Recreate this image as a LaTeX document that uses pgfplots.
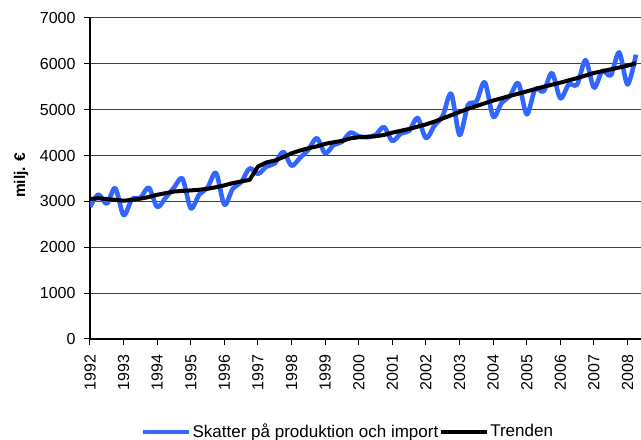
\documentclass[border=0pt]{standalone}
\usepackage{pgfplots}
\usepackage{pgfplotstable}
\pgfplotsset{compat=1.18}
\usepackage{fontspec}
\setmainfont{Liberation Sans}
\definecolor{serblue}{RGB}{51,102,255}

\pgfplotstableread{
x y
1992.00 2880
1992.25 3150
1992.50 2950
1992.75 3290
1993.00 2700
1993.25 3050
1993.50 3080
1993.75 3300
1994.00 2880
1994.25 3080
1994.50 3300
1994.75 3500
1995.00 2850
1995.25 3150
1995.50 3300
1995.75 3620
1996.00 2930
1996.25 3280
1996.50 3420
1996.75 3720
1997.00 3600
1997.25 3760
1997.50 3830
1997.75 4080
1998.00 3780
1998.25 3950
1998.50 4130
1998.75 4380
1999.00 4050
1999.25 4230
1999.50 4300
1999.75 4500
2000.00 4420
2000.25 4400
2000.50 4450
2000.75 4620
2001.00 4320
2001.25 4480
2001.50 4540
2001.75 4820
2002.00 4380
2002.25 4650
2002.50 4870
2002.75 5350
2003.00 4450
2003.25 5100
2003.50 5180
2003.75 5600
2004.00 4850
2004.25 5150
2004.50 5300
2004.75 5580
2005.00 4900
2005.25 5450
2005.50 5400
2005.75 5800
2006.00 5250
2006.25 5550
2006.50 5550
2006.75 6080
2007.00 5480
2007.25 5850
2007.50 5750
2007.75 6250
2008.00 5550
2008.25 6200
}\skatter

\pgfplotstableread{
x y
1992.00 3050
1992.25 3070
1992.50 3050
1992.75 3035
1993.00 3015
1993.25 3035
1993.50 3060
1993.75 3095
1994.00 3145
1994.25 3180
1994.50 3215
1994.75 3230
1995.00 3240
1995.25 3255
1995.50 3275
1995.75 3310
1996.00 3350
1996.25 3400
1996.50 3435
1996.75 3470
1997.00 3760
1997.25 3850
1997.50 3890
1997.75 3965
1998.00 4050
1998.25 4110
1998.50 4160
1998.75 4200
1999.00 4255
1999.25 4290
1999.50 4320
1999.75 4375
2000.00 4400
2000.25 4410
2000.50 4420
2000.75 4450
2001.00 4500
2001.25 4540
2001.50 4580
2001.75 4630
2002.00 4680
2002.25 4740
2002.50 4810
2002.75 4880
2003.00 4950
2003.25 5020
2003.50 5080
2003.75 5140
2004.00 5200
2004.25 5250
2004.50 5300
2004.75 5350
2005.00 5400
2005.25 5450
2005.50 5500
2005.75 5545
2006.00 5590
2006.25 5640
2006.50 5690
2006.75 5745
2007.00 5800
2007.25 5840
2007.50 5880
2007.75 5920
2008.00 5960
2008.25 6015
}\trend

\begin{document}
\fontsize{16bp}{19bp}\selectfont
\begin{tikzpicture}
\begin{axis}[
  scale only axis, width=551bp, height=321bp,
  xmin=1992, xmax=2008.4, ymin=0, ymax=7000,
  axis lines=left,
  axis line style={-, black, line width=1.2bp},
  xtick={1992,1993,...,2008}, minor x tick num=3,
  ytick={0,1000,...,7000},
  ymajorgrids, grid style={black!75, line width=1bp},
  tick align=outside,
  major tick length=6bp, minor tick length=6bp,
  tick style={black, line width=1bp},
  xticklabel style={rotate=90, anchor=east},
  xticklabel shift={4bp},
  yticklabel shift={3bp},
  /pgf/number format/1000 sep={},
  /pgf/number format/assume math mode=true,
  ticklabel style={font=\fontsize{16bp}{19bp}\selectfont},
  ylabel={\textbf{milj. €}},
  every axis y label/.style={at={(axis description cs:0,0.51)}, xshift=-69bp, rotate=90, anchor=center, font=\fontsize{15.5bp}{18bp}\selectfont},
  legend columns=2,
  legend style={at={(axis description cs:0.5,0)}, anchor=center, xshift=-18bp, yshift=-93bp,
    draw=none, fill=none, inner sep=0bp, font=\fontsize{17bp}{20bp}\selectfont,
    nodes={inner sep=1bp},
    /tikz/every odd column/.append style={column sep=0bp},
    /tikz/every even column/.append style={column sep=0bp}},
  legend image code/.code={\draw[#1] (0bp,0bp) -- (46bp,0bp);},
]
\addplot[serblue, line width=4.6bp, line join=round, smooth, tension=0.5, mark=none] table[x=x,y=y] {\skatter};
\addlegendentry{Skatter på produktion och import}
\addplot[black, line width=4bp, line join=round, mark=none] table[x=x,y=y] {\trend};
\addlegendentry{Trenden}
\end{axis}
\pgfresetboundingbox
\path[use as bounding box] ([xshift=-90bp,yshift=-101bp]current axis.south west) rectangle ([yshift=18bp]current axis.north east);
\end{tikzpicture}
\end{document}
